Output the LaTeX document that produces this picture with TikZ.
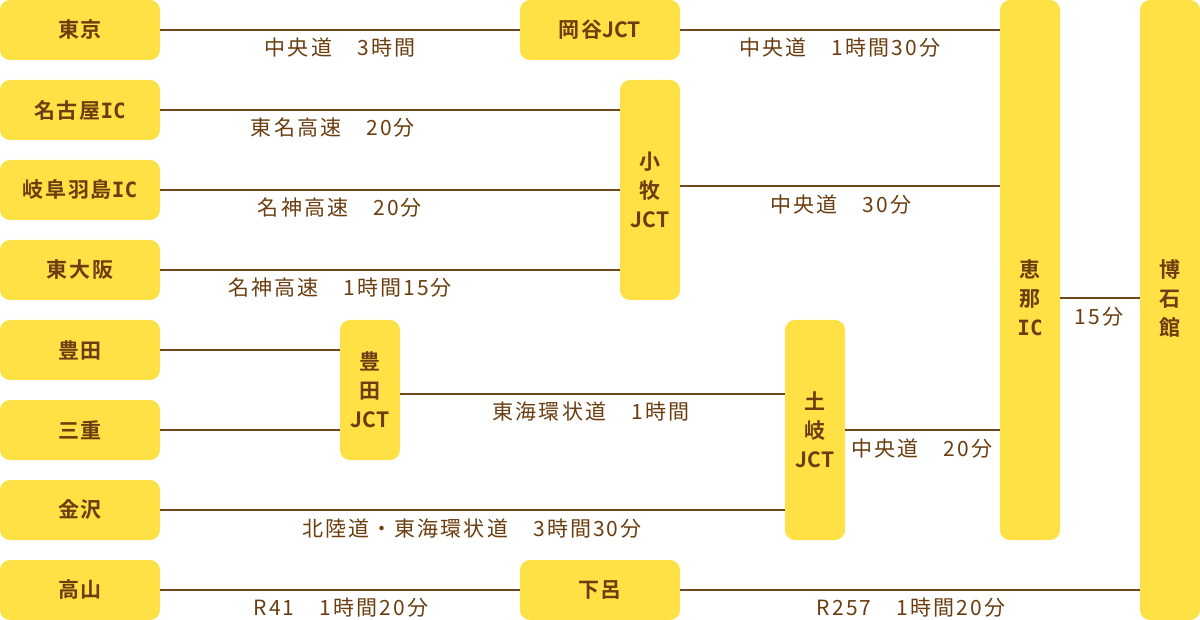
\documentclass[tikz,border=0pt]{standalone}
\usepackage{fontspec}
\usepackage{tikz}
\newfontfamily\boxfont[LetterSpace=8]{Noto Sans CJK JP Bold}
\newfontfamily\tightfont{Noto Sans CJK JP Bold}
\newfontfamily\icfont{DejaVu Sans Mono Bold}
\newfontfamily\lblfont[LetterSpace=10]{Noto Sans CJK JP}
\newcommand{\ic}{{\icfont IC}}
\newcommand{\jctmark}{{\tightfont JCT}}
\definecolor{boxyellow}{HTML}{FFE045}
\definecolor{textbrown}{HTML}{6A3E10}
\definecolor{linebrown}{HTML}{70461A}

\begin{document}
\begin{tikzpicture}[x=1pt, y=-1pt,
    place/.style={fill=boxyellow, rounded corners=10pt, text=textbrown,
        font=\boxfont\fontsize{21}{29}\selectfont, inner sep=0pt,
        minimum width=160pt, minimum height=60pt, align=center},
    jct/.style={place, minimum width=60pt},
    boxtext/.style={text=textbrown, font=\boxfont\fontsize{21}{29}\selectfont,
        inner sep=0pt, align=center},
    road/.style={draw=linebrown, line width=2pt},
    time/.style={text=textbrown, font=\lblfont\fontsize{21}{24}\selectfont, inner sep=0pt}]
    \useasboundingbox (0,0) rectangle (1200,620);

    % start points
    \node[place] (tokyo) at (80,30) {東京};
    \node[place] (nagoya) at (80,110) {名古屋\ic};
    \node[place] (hashima) at (80,190) {岐阜羽島\ic};
    \node[place] (osaka) at (80,270) {東大阪};
    \node[place] (toyota) at (80,350) {豊田};
    \node[place] (mie) at (80,430) {三重};
    \node[place] (kanazawa) at (80,510) {金沢};
    \node[place] (takayama) at (80,590) {高山};

    % junctions
    \node[place] (okaya) at (600,30) {岡谷\jctmark};
    \node[jct, minimum height=220pt] (komaki) at (650,190) {小\\牧\\\jctmark};
    \node[jct, minimum height=140pt] (toyotajct) at (370,390) {豊\\田\\\jctmark};
    \node[jct, minimum height=220pt] (toki) at (815,430) {土\\岐\\\jctmark};
    \node[place] (gero) at (600,590) {下呂};

    \node[jct, minimum height=540pt] (ena) at (1030,270) {};
    \node[boxtext] (enatext) at (1030,298) {恵\\那\\\ic};
    \node[jct, minimum height=620pt] (hakuseki) at (1170,310) {};
    \node[boxtext] (hakusekitext) at (1170,298) {博\\石\\館};

    % roads
    \draw[road] (tokyo) -- (okaya);
    \draw[road] (okaya) -- (okaya -| ena.west);
    \draw[road] (nagoya) -- (nagoya -| komaki.west);
    \draw[road] (hashima) -- (hashima -| komaki.west);
    \draw[road] (osaka) -- (osaka -| komaki.west);
    \draw[road] ([yshift=4pt]komaki.east) -- ([yshift=4pt]komaki.east -| ena.west);
    \draw[road] (ena.east |- enatext) -- (hakuseki.west |- enatext);
    \draw[road] (toyota.east) -- (toyota.east -| toyotajct.west);
    \draw[road] (mie.east) -- (mie.east -| toyotajct.west);
    \draw[road] ([yshift=-4pt]toyotajct.east) -- ([yshift=-4pt]toyotajct.east -| toki.west);
    \draw[road] (toki) -- (toki -| ena.west);
    \draw[road] (kanazawa) -- (kanazawa -| toki.west);
    \draw[road] (takayama) -- (gero);
    \draw[road] (gero) -- (gero -| hakuseki.west);

    % travel times
    \node[time] (t1) at (340,48) {中央道　3時間};
    \node[time] (t2) at (840,48) {中央道　1時間30分};
    \node[time] (t3) at (333,128) {東名高速　20分};
    \node[time] (t4) at (340,208) {名神高速　20分};
    \node[time] (t5) at (340,288) {名神高速　1時間15分};
    \node[time] (t6) at (841,205) {中央道　30分};
    \node[time] (t7) at (1099,317) {15分};
    \node[time] (t8) at (591,412) {東海環状道　1時間};
    \node[time] (t9) at (922,449) {中央道　20分};
    \node[time] (t10) at (472,529) {北陸道・東海環状道　3時間30分};
    \node[time] (t11) at (341,608) {R41　1時間20分};
    \node[time] (t12) at (911,608) {R257　1時間20分};
\end{tikzpicture}
\end{document}
